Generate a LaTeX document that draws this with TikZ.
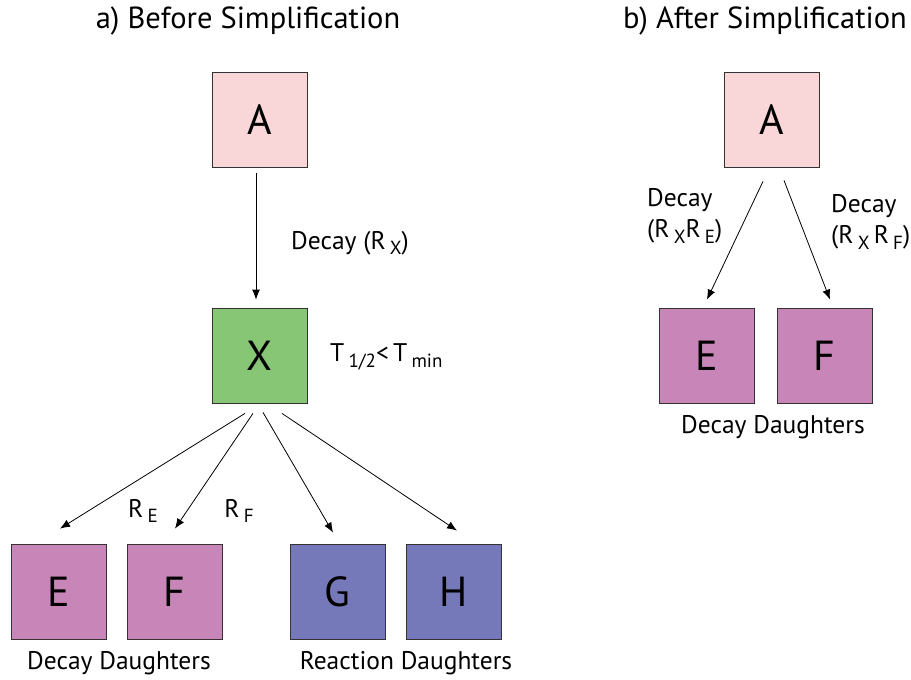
\documentclass[tikz,border=0pt]{standalone}
\usepackage{fontspec}
\setmainfont{PT Sans}
\usetikzlibrary{arrows.meta}
\definecolor{cA}{HTML}{F9D6D7}
\definecolor{cX}{HTML}{86C675}
\definecolor{cE}{HTML}{C886B8}
\definecolor{cG}{HTML}{7679B9}
\newcommand{\lsub}[1]{\raisebox{-0.45ex}{\fontsize{19}{21}\selectfont #1}}
\tikzset{
  box/.style={draw=black!80, line width=0.8pt, minimum size=95pt, inner sep=0pt, font=\fontsize{42}{44}\selectfont},
  lbl/.style={inner sep=0pt, font=\fontsize{25.5}{31}\selectfont},
  ttl/.style={inner sep=0pt, font=\fontsize{30.5}{34}\selectfont},
  arr/.style={-{Latex[length=10pt,width=8pt]}, line width=0.8pt},
}
\begin{document}
\begin{tikzpicture}[x=1pt,y=-1pt]
\useasboundingbox (0,0) rectangle (911,680);
% titles
\node[ttl] (t1) at (248,21) {a) Before Simplification};
\node[ttl] (t2) at (765,21) {b) After Simplification};
% left panel
\node[box, fill=cA] (A) at (259.5,119.5) {A};
\node[box, fill=cX] (X) at (259.5,355.5) {X};
\node[box, fill=cE] (E) at (58.5,591.5) {E};
\node[box, fill=cE] (F) at (174.5,591.5) {F};
\node[box, fill=cG] (G) at (337.5,591.5) {G};
\node[box, fill=cG] (H) at (453.5,591.5) {H};
\draw[arr] ([xshift=-3.5pt,yshift=-6pt]A.south) -- ([xshift=-3.5pt,yshift=8pt]X.north);
\node[lbl, anchor=west] (dx) at (291,243) {Decay (R\,\lsub{X})};
\node[lbl, anchor=west] (th) at (330,357) {T\,\lsub{1/2}<\,T\,\lsub{min}};
\draw[arr] ([xshift=-14.5pt,yshift=-10pt]X.south) -- ([xshift=1.5pt,yshift=15pt]E.north);
\draw[arr] ([xshift=-6.5pt,yshift=-10pt]X.south) -- ([xshift=0.5pt,yshift=15pt]F.north);
\draw[arr] ([xshift=3.5pt,yshift=-9pt]X.south) -- ([xshift=-4.5pt,yshift=11pt]G.north);
\draw[arr] ([xshift=22.5pt,yshift=-10pt]X.south) -- ([xshift=3.5pt,yshift=13pt]H.north);
\node[lbl] (re) at (143,511) {R\,\lsub{E}};
\node[lbl] (rf) at (239,511) {R\,\lsub{F}};
\node[lbl] (dd1) at (119,663) {Decay Daughters};
\node[lbl] (rd1) at (406,663) {Reaction Daughters};
% right panel
\node[box, fill=cA] (A2) at (771.5,119.5) {A};
\node[box, fill=cE] (E2) at (706.5,355.5) {E};
\node[box, fill=cE] (F2) at (824.5,355.5) {F};
\draw[arr] ([xshift=-8.5pt,yshift=-14pt]A2.south) -- ([xshift=0.5pt,yshift=8pt]E2.north);
\draw[arr] ([xshift=12.5pt,yshift=-13pt]A2.south) -- ([xshift=5.5pt,yshift=8pt]F2.north);
\node[lbl, anchor=west, align=left] (de2) at (647,216) {Decay\\(R\,\lsub{X}R\,\lsub{E})};
\node[lbl, anchor=west, align=left] (df2) at (831,222) {Decay\\(R\,\lsub{X}\,R\,\lsub{F})};
\node[lbl] (dd2) at (773,427) {Decay Daughters};
\end{tikzpicture}
\end{document}
